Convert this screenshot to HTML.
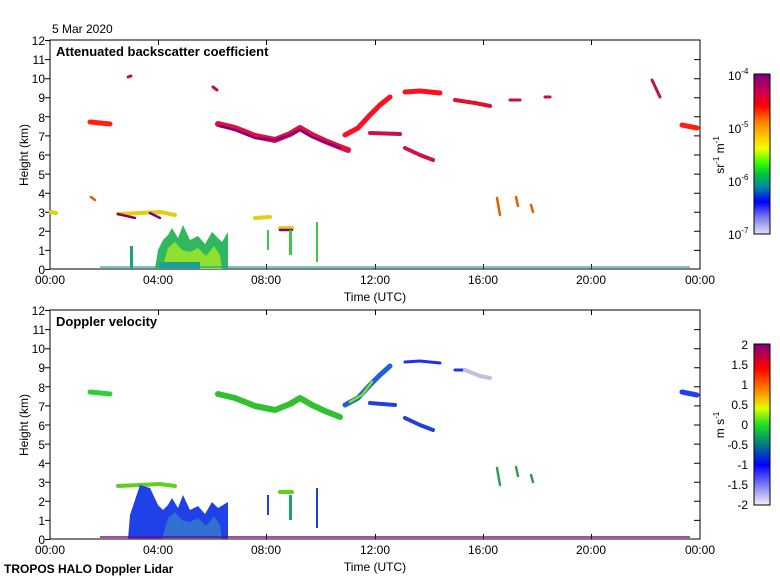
<!DOCTYPE html>
<html><head><meta charset="utf-8"><style>
body{margin:0;background:#fff}
svg{display:block;font-family:"Liberation Sans",sans-serif}
</style></head><body>
<svg width="780" height="580" viewBox="0 0 780 580" xmlns="http://www.w3.org/2000/svg">
<defs>
<linearGradient id="gb" x1="0" y1="0" x2="0" y2="1">
<stop offset="0" stop-color="#800080"/><stop offset="0.12" stop-color="#d0004a"/><stop offset="0.2" stop-color="#ff0000"/><stop offset="0.3" stop-color="#ff8000"/><stop offset="0.4" stop-color="#ffd000"/><stop offset="0.47" stop-color="#f0ff00"/><stop offset="0.55" stop-color="#40ff00"/><stop offset="0.63" stop-color="#00c040"/><stop offset="0.7" stop-color="#0090a0"/><stop offset="0.8" stop-color="#0000ff"/><stop offset="0.9" stop-color="#8080f0"/><stop offset="1" stop-color="#e0e0f0"/>
</linearGradient>
<linearGradient id="gv" x1="0" y1="0" x2="0" y2="1">
<stop offset="0" stop-color="#800080"/><stop offset="0.15" stop-color="#ff0000"/><stop offset="0.3" stop-color="#ff9000"/><stop offset="0.4" stop-color="#e0ff00"/><stop offset="0.5" stop-color="#20e020"/><stop offset="0.62" stop-color="#008080"/><stop offset="0.75" stop-color="#0000ff"/><stop offset="0.88" stop-color="#8080f0"/><stop offset="1" stop-color="#f0f0f8"/>
</linearGradient>
<g id="axes">
<rect x="50" y="40" width="650" height="229" fill="none" stroke="#000" stroke-width="1"/>
<path stroke="#000" fill="none" d="M50 269.5h-5M50 250.4h-5M50 231.3h-5M50 212.2h-5M50 193.2h-5M50 174.1h-5M50 155h-5M50 135.9h-5M50 116.8h-5M50 97.7h-5M50 78.7h-5M50 59.6h-5M50 40.5h-5
M700 250.4h-6M700 231.3h-6M700 212.2h-6M700 193.2h-6M700 174.1h-6M700 155h-6M700 135.9h-6M700 116.8h-6M700 97.7h-6M700 78.7h-6M700 59.6h-6
M158.5 269v-5M266.5 269v-5M375.5 269v-5M483.5 269v-5M591.5 269v-5M158.5 40v5M266.5 40v5M375.5 40v5M483.5 40v5M591.5 40v5"/>
<g font-size="12" text-anchor="end">
<text x="45" y="274">0</text><text x="45" y="255">1</text><text x="45" y="236">2</text><text x="45" y="217">3</text><text x="45" y="198">4</text><text x="45" y="179">5</text><text x="45" y="160">6</text><text x="45" y="141">7</text><text x="45" y="122">8</text><text x="45" y="102">9</text><text x="45" y="83">10</text><text x="45" y="64">11</text><text x="45" y="45">12</text>
</g>
<g font-size="12" text-anchor="middle">
<text x="50" y="284">00:00</text><text x="158" y="284">04:00</text><text x="266" y="284">08:00</text><text x="375" y="284">12:00</text><text x="483" y="284">16:00</text><text x="591" y="284">20:00</text><text x="700" y="284">00:00</text>
<text x="375" y="301">Time (UTC)</text>
</g>
<text transform="translate(28,155) rotate(-90)" font-size="12" text-anchor="middle">Height (km)</text>
</g>
</defs>

<text x="52" y="33" font-size="12">5 Mar 2020</text>

<!-- Top panel -->
<use href="#axes"/>
<g fill="none" stroke-linecap="round" stroke-linejoin="round">
<path d="M218 124 L235 128 L255 136 L275 140 L290 134 L300 128 L312 135 L325 141 L340 147 L348 150" stroke="#e01040" stroke-width="6"/>
<path d="M220 126 L235 130 L255 138 L275 140 L290 135 L300 130 L312 137 L325 142 L340 148" stroke="#800080" stroke-width="2.5"/>
<path d="M345 135 L358 128 L370 115 L380 105 L390 97 M405 92 L420 91 L440 93" stroke="#ff1020" stroke-width="5"/>
<path d="M455 100 L475 103 L490 106" stroke="#e01030" stroke-width="4"/>
<path d="M370 133 L400 134 M405 148 L420 155 L433 160" stroke="#d01040" stroke-width="4"/>
<path d="M90 122 L110 124 M682 125 L697 128" stroke="#ff2010" stroke-width="5"/>
<path d="M510 100 L520 100 M545 97 L550 97 M213 87 L217 90 M652 80 L660 97 M128 77 L131 76" stroke="#c01040" stroke-width="3"/>
<path d="M118 214 L140 213 L160 212 L175 215 M255 218 L270 217 M280 228 L292 228 M51 212 L56 213" stroke="#e0d010" stroke-width="4"/>
<path d="M118 214 L135 218 M280 230 L292 230 M150 213 L160 218" stroke="#800080" stroke-width="2.5"/>
<path d="M91 197 L95 200 M497 198 L500 215 M516 197 L518 206 M531 205 L533 212" stroke="#e06000" stroke-width="2.5"/>
</g>
<path d="M155 269 L158 250 L163 240 L168 235 L172 228 L178 238 L183 225 L190 240 L198 236 L205 244 L212 232 L218 238 L222 242 L228 232 L228 269Z" fill="#30b860"/>
<path d="M162 269 L168 248 L175 242 L182 250 L190 252 L198 248 L206 256 L214 246 L220 255 L222 269Z" fill="#90e030"/>
<path d="M160 262 L200 262 L200 269 L160 269Z" fill="#20a090"/>
<rect x="130" y="246" width="3" height="23" fill="#20a080"/>
<rect x="267" y="230" width="2" height="20" fill="#40c840"/><rect x="289" y="230" width="3" height="25" fill="#40c840"/><rect x="316" y="222" width="2" height="40" fill="#40c840"/>
<rect x="100" y="266" width="590" height="2" fill="#20a0a0" opacity="0.6"/>
<rect x="754" y="74" width="16" height="160" fill="url(#gb)" stroke="#000"/>
<g font-size="12">
<text x="728" y="80">10<tspan font-size="8" dy="-6">-4</tspan></text>
<text x="728" y="133">10<tspan font-size="8" dy="-6">-5</tspan></text>
<text x="728" y="186">10<tspan font-size="8" dy="-6">-6</tspan></text>
<text x="728" y="239">10<tspan font-size="8" dy="-6">-7</tspan></text>
<text transform="translate(724,155) rotate(-90)" text-anchor="middle">sr<tspan font-size="8" dy="-5">-1</tspan><tspan dy="5"> m</tspan><tspan font-size="8" dy="-5">-1</tspan></text>
</g>
<text x="56" y="56" font-size="13" font-weight="bold">Attenuated backscatter coefficient</text>

<!-- Bottom panel -->
<g transform="translate(0,270)">
<use href="#axes"/>
<g fill="none" stroke-linecap="round" stroke-linejoin="round">
<path d="M218 124 L235 128 L255 136 L275 140 L290 134 L300 128 L312 135 L325 141 L340 147" stroke="#30c030" stroke-width="6"/>
<path d="M345 135 L358 128 L370 115 L380 105 L390 96" stroke="#2060e0" stroke-width="5"/>
<path d="M350 132 L362 125 L372 112" stroke="#80e020" stroke-width="2.5"/>
<path d="M405 92 L420 91 L440 93 M455 100 L465 100" stroke="#2030f0" stroke-width="3"/>
<path d="M465 100 L480 106 L490 108" stroke="#c0c0e0" stroke-width="4"/>
<path d="M370 133 L395 135 M405 148 L420 155 L433 160" stroke="#2040e0" stroke-width="4"/>
<path d="M682 122 L697 125" stroke="#2040f0" stroke-width="5"/>
<path d="M90 122 L110 124" stroke="#30d030" stroke-width="5"/>
<path d="M118 216 L140 215 L160 214 L175 216 M280 222 L292 222" stroke="#60d020" stroke-width="4"/>
<path d="M497 198 L500 215 M516 197 L518 206 M531 205 L533 212" stroke="#30a050" stroke-width="2.5"/>
</g>
<path d="M128 269 L130 245 L140 215 L150 218 L158 235 L163 240 L168 235 L172 228 L178 238 L183 225 L190 240 L198 236 L205 244 L212 232 L218 238 L228 232 L228 269Z" fill="#2040e8"/>
<path d="M162 269 L168 248 L175 242 L182 250 L190 252 L198 248 L206 256 L214 246 L220 255 L222 269Z" fill="#3070d0"/>
<rect x="267" y="225" width="2" height="20" fill="#2040e0"/><rect x="289" y="225" width="3" height="25" fill="#20a060"/><rect x="316" y="218" width="2" height="40" fill="#2040e0"/>
<rect x="100" y="266" width="590" height="2" fill="#800080" opacity="0.7"/>
</g>
<rect x="754" y="344" width="16" height="161" fill="url(#gv)" stroke="#000"/>
<g font-size="12" text-anchor="end">
<text x="748" y="349">2</text><text x="748" y="369">1.5</text><text x="748" y="389">1</text><text x="748" y="409">0.5</text><text x="748" y="429">0</text><text x="748" y="449">-0.5</text><text x="748" y="469">-1</text><text x="748" y="489">-1.5</text><text x="748" y="509">-2</text>
</g>
<text transform="translate(724,425) rotate(-90)" font-size="12" text-anchor="middle">m s<tspan font-size="8" dy="-5">-1</tspan></text>
<text x="56" y="326" font-size="13" font-weight="bold">Doppler velocity</text>
<text x="4" y="573" font-size="12" font-weight="bold">TROPOS HALO Doppler Lidar</text>
</svg>
</body></html>
